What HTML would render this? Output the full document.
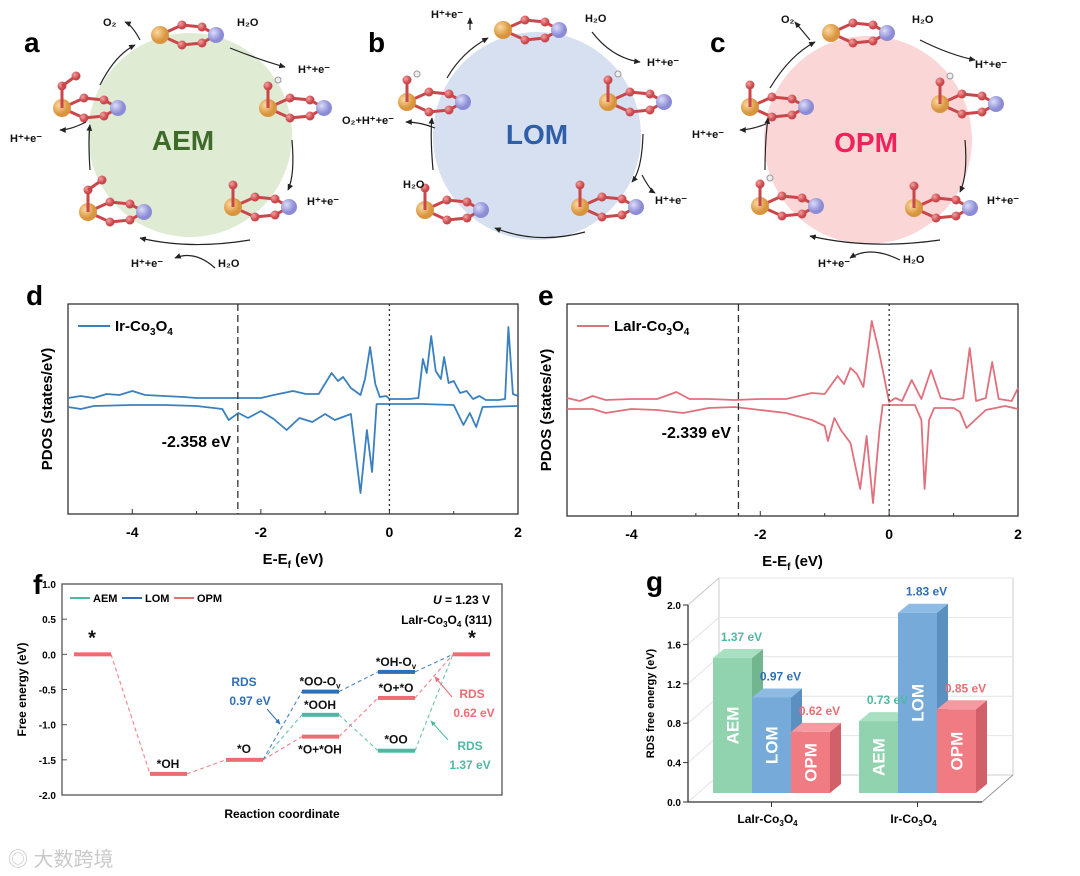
<!DOCTYPE html>
<html><head><meta charset="utf-8">
<style>
html,body{margin:0;padding:0;background:#fff;}
svg{display:block;font-family:"Liberation Sans","Noto Sans CJK SC",sans-serif;}
text{font-weight:bold;}
</style></head>
<body>
<svg id="fig" width="1080" height="876" viewBox="0 0 1080 876" xmlns="http://www.w3.org/2000/svg">
<defs>
<marker id="ah" viewBox="0 0 10 10" refX="8" refY="5" markerWidth="6" markerHeight="6" orient="auto"><path d="M0,1 L9,5 L0,9 z" fill="#222"/></marker>
<marker id="ahb" viewBox="0 0 10 10" refX="8" refY="5" markerWidth="6" markerHeight="6" orient="auto"><path d="M0,1 L9,5 L0,9 z" fill="#2f6fb5"/></marker>
<marker id="ahr" viewBox="0 0 10 10" refX="8" refY="5" markerWidth="6" markerHeight="6" orient="auto"><path d="M0,1 L9,5 L0,9 z" fill="#ef6b73"/></marker>
<marker id="aht" viewBox="0 0 10 10" refX="8" refY="5" markerWidth="6" markerHeight="6" orient="auto"><path d="M0,1 L9,5 L0,9 z" fill="#4fb8a4"/></marker>
<radialGradient id="go" cx="35%" cy="35%"><stop offset="0" stop-color="#fbd9a0"/><stop offset="1" stop-color="#d9953e"/></radialGradient>
<radialGradient id="gp" cx="35%" cy="35%"><stop offset="0" stop-color="#dcdcf8"/><stop offset="1" stop-color="#8c8cd6"/></radialGradient>
<radialGradient id="gr" cx="35%" cy="35%"><stop offset="0" stop-color="#f4a0a0"/><stop offset="1" stop-color="#c9464a"/></radialGradient>
</defs>

<g id="schemes">
  <text x="24" y="52" font-size="28">a</text>
  <circle cx="190" cy="135" r="102" fill="#dfebd3"/>
  <text x="183" y="150" font-size="28" fill="#3f6b2a" text-anchor="middle">AEM</text>
  <text x="368" y="52" font-size="28">b</text>
  <circle cx="537" cy="136" r="104" fill="#d6e0f1"/>
  <text x="537" y="144" font-size="28" fill="#2f5fa8" text-anchor="middle">LOM</text>
  <text x="710" y="52" font-size="28">c</text>
  <circle cx="868" cy="140" r="104" fill="#fad6d6"/>
  <text x="866" y="152" font-size="28" fill="#f0215c" text-anchor="middle">OPM</text>
  <g id="mols"></g>
  <g font-size="11" fill="#111">
    <text x="103" y="26">O₂</text>
    <text x="237" y="26">H₂O</text>
    <text x="298" y="73">H⁺+e⁻</text>
    <text x="10" y="142">H⁺+e⁻</text>
    <text x="307" y="205">H⁺+e⁻</text>
    <text x="131" y="267">H⁺+e⁻</text>
    <text x="218" y="267">H₂O</text>
    <text x="431" y="18">H⁺+e⁻</text>
    <text x="585" y="22">H₂O</text>
    <text x="647" y="66">H⁺+e⁻</text>
    <text x="342" y="124">O₂+H⁺+e⁻</text>
    <text x="403" y="188">H₂O</text>
    <text x="655" y="204">H⁺+e⁻</text>
    <text x="781" y="23">O₂</text>
    <text x="912" y="23">H₂O</text>
    <text x="975" y="68">H⁺+e⁻</text>
    <text x="692" y="138">H⁺+e⁻</text>
    <text x="987" y="204">H⁺+e⁻</text>
    <text x="818" y="267">H⁺+e⁻</text>
    <text x="903" y="263">H₂O</text>
  </g>
  <g fill="none" stroke="#222" stroke-width="1.2" marker-end="url(#ah)">
    <path d="M100,85 Q115,55 135,45"/>
    <path d="M230,48 Q260,60 285,67"/>
    <path d="M292,140 Q295,175 288,190"/>
    <path d="M250,240 Q190,250 140,238"/>
    <path d="M90,170 Q88,140 90,125"/>
    <path d="M86,122 Q70,130 60,130"/>
    <path d="M140,40 Q132,25 125,22"/>
    <path d="M215,268 Q195,250 175,258"/>
    <path d="M447,78 Q462,52 488,38"/>
    <path d="M470,30 Q470,22 470,18"/>
    <path d="M592,32 Q612,58 640,62"/>
    <path d="M643,134 Q642,170 632,182"/>
    <path d="M585,232 Q537,245 495,228"/>
    <path d="M642,175 Q650,190 655,193"/>
    <path d="M433,170 Q430,135 432,118"/>
    <path d="M435,128 Q420,122 406,122"/>
    <path d="M770,88 Q790,55 815,42"/>
    <path d="M810,40 Q800,28 795,22"/>
    <path d="M920,40 Q950,55 975,60"/>
    <path d="M965,140 Q968,175 960,192"/>
    <path d="M940,240 Q870,250 810,236"/>
    <path d="M900,260 Q870,245 850,258"/>
    <path d="M765,170 Q765,140 768,118"/>
    <path d="M766,124 Q750,130 740,130"/>
  </g>
</g>

<g id="pdosD"></g>
<g id="pdosE"></g>
<g id="panelF"></g>
<g id="panelG"></g>

<text x="8" y="866" font-size="20" fill="#c9c9c9" style="font-weight:normal">◎ 大数跨境</text>
</svg>
<script>
// ---------- PDOS data ----------
const dUpE  = [-5,-4.8,-4.6,-4.4,-4.2,-4,-3.8,-3.5,-3.2,-3,-2.5,-2.2,-2,-1.8,-1.5,-1.3,-1.1,-0.9,-0.8,-0.72,-0.6,-0.45,-0.38,-0.3,-0.22,-0.15,-0.05,0,0.3,0.45,0.52,0.58,0.65,0.72,0.8,0.85,0.92,1.0,1.1,1.2,1.3,1.4,1.5,1.7,1.8,1.85,1.92,2];
const dUpV  = [1.1,1.3,1.1,1.5,1.4,1.8,1.4,1.3,1.2,1.1,1.1,1.1,1.1,1.4,1.8,1.5,1.5,3.6,2.8,3.2,2.1,1.4,3.0,6.2,2.5,1.2,1.3,1.0,1.0,1.1,5.0,3.6,7.3,3.8,3.0,5.2,2.6,2.8,1.6,1.8,1.0,1.3,0.9,0.9,1.0,8.2,1.5,1.3];
const dDnE  = [-5,-4.8,-4.6,-4,-3.5,-3,-2.6,-2.5,-2.35,-2.2,-2,-1.8,-1.6,-1.4,-1.2,-1,-0.85,-0.6,-0.45,-0.35,-0.27,-0.2,0,0.5,1.0,1.15,1.25,1.35,1.45,2];
const dDnV  = [0.2,0,0.3,0.4,0.4,0.3,0,-1.1,-0.4,-0.9,-0.2,-1.0,-2.1,-0.9,-1.3,-0.5,-1.1,-0.5,-8.4,-2.1,-6.3,0.5,0.5,0.5,0.4,-1.6,-0.4,-1.8,0.2,0.3];
const eUpE  = [-5,-4.8,-4.6,-4.4,-4,-3.6,-3.3,-3.1,-2.8,-2.4,-2,-1.6,-1.2,-1.0,-0.8,-0.7,-0.6,-0.5,-0.4,-0.27,-0.17,-0.1,0,0.1,0.2,0.35,0.5,0.65,0.8,1.0,1.15,1.25,1.35,1.5,1.6,1.7,1.9,2];
const eUpV  = [1.2,0.9,1.4,1.0,1.1,1.1,1.8,1.1,1.1,1.0,1.1,1.1,1.7,1.6,3.4,2.6,4.2,3.6,2.3,8.9,6.2,4.0,0.8,1.2,0.9,3.0,1.1,4.0,1.2,1.0,1.2,6.2,0.9,1.2,4.8,1.1,0.9,2.2];
const eDnE  = [-5,-4.6,-4.4,-4,-3.6,-3.2,-2.8,-2.4,-2,-1.6,-1.2,-1.0,-0.95,-0.85,-0.75,-0.6,-0.45,-0.35,-0.25,-0.15,-0.1,0.4,0.5,0.55,0.62,0.7,1.0,1.1,1.2,1.3,1.5,1.8,2];
const eDnV  = [0.1,0.1,-0.3,0.1,0.0,-0.3,0.2,0.3,0.0,-0.3,-1.0,-1.6,-3.1,-0.8,-2.0,-3.3,-7.9,-2.6,-9.3,-2.0,0.5,0.5,-1.0,-7.9,-1.0,0.2,0.2,-0.2,-1.8,-1.2,0.0,0.4,0.1];
const eTicks = [-4,-2,0,2];

// ---------- Free energy data (panel f) ----------
const stepSlots = [0,1,2,3,4,5];
const aemE = [0,-1.70,-1.50,-0.86,-1.37,0];
const lomE = [0,-1.70,-1.50,-0.53,-0.25,0];
const opmE = [0,-1.70,-1.50,-1.17,-0.62,0];
const fTicks = [1.0,0.5,0.0,-0.5,-1.0,-1.5,-2.0];

// ---------- RDS data (panel g) ----------
const gGroups = ["LaIr-Co₃O₄","Ir-Co₃O₄"];
const gAEM = [1.37,0.73];
const gLOM = [0.97,1.83];
const gOPM = [0.62,0.85];
const gTicks = [0.0,0.4,0.8,1.2,1.6,2.0];

const NS="http://www.w3.org/2000/svg";
function mk(tag,attrs,parent,txt){const e=document.createElementNS(NS,tag);for(const k in attrs)e.setAttribute(k,attrs[k]);if(txt!==undefined)e.textContent=txt;parent.appendChild(e);return e;}

const mols=document.getElementById('mols');
function molecule(x,y,extra){
  const g=mk('g',{},mols);
  
  
  mk('path',{d:`M${x},${y} L${x+22},${y-10} L${x+42},${y-8} L${x+56},${y} L${x+42},${y+8} L${x+22},${y+10} Z`,fill:'none',stroke:'#c9464a','stroke-width':3},g);
  mk('circle',{cx:x,cy:y,r:9,fill:'url(#go)'},g);
  mk('circle',{cx:x+56,cy:y,r:8,fill:'url(#gp)'},g);
  [[22,-10],[42,-8],[22,10],[42,8]].forEach(p=>mk('circle',{cx:x+p[0],cy:y+p[1],r:4.5,fill:'url(#gr)'},g));
  if(extra>=1){mk('line',{x1:x,y1:y,x2:x,y2:y-22,stroke:'#c9464a','stroke-width':3},g);mk('circle',{cx:x,cy:y-22,r:4.5,fill:'url(#gr)'},g);}
  if(extra==2){mk('circle',{cx:x+10,cy:y-28,r:3,fill:'#eee',stroke:'#999'},g);}
  if(extra==3){mk('line',{x1:x,y1:y-22,x2:x+14,y2:y-32,stroke:'#c9464a','stroke-width':3},g);mk('circle',{cx:x+14,cy:y-32,r:4.5,fill:'url(#gr)'},g);}
}
[[160,35,0],[268,108,2],[233,207,1],[88,212,3],[62,108,3],
 [503,30,0],[608,102,2],[580,207,1],[425,210,1],[407,102,2],
 [831,33,0],[940,104,2],[914,208,1],[760,206,2],[750,107,1]].forEach(m=>molecule(m[0],m[1],m[2]));

// ---------- PDOS ----------
function pdos(gid,x0,x1,y0,y1,upE,upV,dnE,dnV,color,name,lab,lineE,labText,labX,labY){
  const g=document.getElementById(gid);
  const X=e=>x0+(e+5)/7*(x1-x0);
  const Y=v=>(y0+y1)/2 - v*10;
  mk('rect',{x:x0,y:y0,width:x1-x0,height:y1-y0,fill:'none',stroke:'#333','stroke-width':1.3},g);
  const up=mk('path',{d:upE.map((e,i)=>(i?'L':'M')+X(e).toFixed(1)+','+Y(upV[i]).toFixed(1)).join(' '),fill:'none',stroke:color,'stroke-width':1.8,'stroke-linejoin':'round'},g);
  
  
  const dn=mk('path',{d:dnE.map((e,i)=>(i?'L':'M')+X(e).toFixed(1)+','+Y(dnV[i]).toFixed(1)).join(' '),fill:'none',stroke:color,'stroke-width':1.8,'stroke-linejoin':'round'},g);
  
  
  mk('line',{x1:X(lineE),y1:y0,x2:X(lineE),y2:y1,stroke:'#333','stroke-dasharray':'7,4','stroke-width':1.3},g);
  mk('line',{x1:X(0),y1:y0,x2:X(0),y2:y1,stroke:'#333','stroke-dasharray':'2,3','stroke-width':1.3},g);
  eTicks.forEach(t=>{mk('line',{x1:X(t),y1:y1,x2:X(t),y2:y1-5,stroke:'#333'},g);
    const tl=mk('text',{x:X(t),y:y1+23,'font-size':14,'text-anchor':'middle'},g,t);
    });
  [-3,-1,1].forEach(t=>mk('line',{x1:X(t),y1:y1,x2:X(t),y2:y1-3,stroke:'#333'},g));
  const xt=mk('text',{x:(x0+x1)/2,y:y1+50,'font-size':15,'text-anchor':'middle'},g);
  
  xt.innerHTML='E-E<tspan font-size="10" dy="4">f</tspan><tspan dy="-4"> (eV)</tspan>';
  const yt=mk('text',{x:0,y:0,'font-size':15,'text-anchor':'middle',transform:`translate(${x0-16},${(y0+y1)/2}) rotate(-90)`},g,'PDOS (states/eV)');
  
  mk('line',{x1:x0+10,y1:y0+22,x2:x0+42,y2:y0+22,stroke:color,'stroke-width':2},g);
  const lt=mk('text',{x:x0+47,y:y0+27,'font-size':15},g);
  
  lt.innerHTML=lab+'-Co<tspan font-size="10" dy="4">3</tspan><tspan dy="-4">O</tspan><tspan font-size="10" dy="4">4</tspan>';
  const an=mk('text',{x:labX,y:labY,'font-size':16,'text-anchor':'end'},g,labText);
  
}
mk('text',{x:26,y:305,'font-size':28},document.getElementById('pdosD'),'d');
mk('text',{x:538,y:305,'font-size':28},document.getElementById('pdosE'),'e');
pdos('pdosD',68,518,304,514,dUpE,dUpV,dDnE,dDnV,'#3a80c0','ir-co3o4','Ir',-2.358,'-2.358 eV',231,447);
pdos('pdosE',567,1018,304,516,eUpE,eUpV,eDnE,eDnV,'#e0707c','lair-co3o4','LaIr',-2.339,'-2.339 eV',731,438);

// ---------- Panel f ----------
(function(){
  const g=document.getElementById('panelF');
  const x0=62,x1=502,yTop=584,yBot=795;
  const Y=v=>yTop+(1.0-v)/3*(yBot-yTop);
  const slotL=[74,150,226,302,378,453], W=37;
  const SX=i=>slotL[stepSlots[i]];
  mk('text',{x:33,y:594,'font-size':28},g,'f');
  mk('rect',{x:x0,y:yTop,width:x1-x0,height:yBot-yTop,fill:'none',stroke:'#555','stroke-width':1.3},g);
  fTicks.forEach(t=>{mk('line',{x1:x0,y1:Y(t),x2:x0+5,y2:Y(t),stroke:'#555'},g);
    const tl=mk('text',{x:x0-6,y:Y(t)+4,'font-size':10,'text-anchor':'end'},g,t.toFixed(1));
    });
  const yt=mk('text',{x:0,y:0,'font-size':12,'text-anchor':'middle',transform:`translate(${x0-36},${(yTop+yBot)/2}) rotate(-90)`},g,'Free energy (eV)');
  
  const xt=mk('text',{x:(x0+x1)/2,y:818,'font-size':12,'text-anchor':'middle'},g,'Reaction coordinate');
  
  const series=[[aemE,'#4fb8a4','aem'],[lomE,'#2f6fb5','lom'],[opmE,'#ef6b73','opm']];
  series.forEach(s=>{
    const arr=s[0];
    for(let i=0;i<arr.length-1;i++){
      if(i<2 && s[2]!=='opm') continue;
      const l=mk('line',{x1:SX(i)+W,y1:Y(arr[i]),x2:SX(i+1),y2:Y(arr[i+1]),stroke:s[1],'stroke-width':1.1,'stroke-dasharray':'4,3',opacity:0.85},g);
      
    }
  });
  series.forEach(s=>{
    const arr=s[0];
    arr.forEach((v,i)=>{
      if((i<3||i==5) && s[2]!=='opm') return;
      const r=mk('rect',{x:SX(i),y:Y(v)-2,width:W,height:4,fill:s[1]},g);
      
    });
  });
  const T=(x,y,t,c,sz,nm)=>{const e=mk('text',{x:x,y:y,'font-size':sz||12,fill:c||'#111','text-anchor':'middle'},g);e.innerHTML=t;return e;};
  T(92,Y(0)-10,'*','#111',20,'label-star-start');
  T(472,Y(0)-10,'*','#111',20,'label-star-end');
  T(168,Y(aemE[1])-6,'*OH','#111',12,'label-oh');
  T(244,Y(aemE[2])-7,'*O','#111',12,'label-o');
  T(320,Y(lomE[3])-6,'*OO-O<tspan font-size="8" dy="3">v</tspan>','#111',12,'label-oo-ov');
  T(320,Y(aemE[3])-6,'*OOH','#111',12,'label-ooh');
  T(320,Y(opmE[3])+17,'*O+*OH','#111',12,'label-o-oh');
  T(396,Y(lomE[4])-6,'*OH-O<tspan font-size="8" dy="3">v</tspan>','#111',12,'label-oh-ov');
  T(396,Y(opmE[4])-6,'*O+*O','#111',12,'label-o-o');
  T(396,Y(aemE[4])-7,'*OO','#111',12,'label-oo');
  T(244,686,'RDS','#2f6fb5',12,'rds-lom');T(250,705,'0.97 eV','#2f6fb5',12,'rds-lom-value');
  T(472,698,'RDS','#ef6b73',12,'rds-opm');T(474,717,'0.62 eV','#ef6b73',12,'rds-opm-value');
  T(470,750,'RDS','#4fb8a4',12,'rds-aem');T(470,769,'1.37 eV','#4fb8a4',12,'rds-aem-value');
  mk('line',{x1:267,y1:709,x2:280,y2:724,stroke:'#2f6fb5','marker-end':'url(#ahb)'},g);
  mk('line',{x1:452,y1:697,x2:435,y2:677,stroke:'#ef6b73','marker-end':'url(#ahr)'},g);
  mk('line',{x1:448,y1:740,x2:431,y2:721,stroke:'#4fb8a4','marker-end':'url(#aht)'},g);
  const leg=[['AEM','#4fb8a4',70],['LOM','#2f6fb5',122],['OPM','#ef6b73',174]];
  leg.forEach(l=>{mk('line',{x1:l[2],y1:598,x2:l[2]+20,y2:598,stroke:l[1],'stroke-width':2},g);
    const t=mk('text',{x:l[2]+23,y:602,'font-size':11},g,l[0]);});
  const u=mk('text',{x:490,y:604,'font-size':12,'text-anchor':'end'},g);u.innerHTML='<tspan font-style="italic">U</tspan> = 1.23 V';
  
  const s=mk('text',{x:492,y:624,'font-size':12,'text-anchor':'end'},g);s.innerHTML='LaIr-Co<tspan font-size="8" dy="3">3</tspan><tspan dy="-3">O</tspan><tspan font-size="8" dy="3">4</tspan><tspan dy="-3"> (311)</tspan>';
  
})();

// ---------- Panel g ----------
(function(){
  const g=document.getElementById('panelG');
  const ax=688, ay0=802, S=98.5, dX=31, dY=-27, xr=982;
  mk('text',{x:646,y:591,'font-size':28},g,'g');
  const Yf=v=>ay0-v*S;
  mk('rect',{x:ax+dX,y:578,width:xr-ax,height:ay0+dY-578,fill:'none',stroke:'#ccc'},g);
  gTicks.forEach(t=>{ if(t>0) mk('line',{x1:ax+dX,y1:Yf(t)+dY,x2:xr+dX,y2:Yf(t)+dY,stroke:'#e4e4e4'},g);
    mk('line',{x1:ax,y1:Yf(t),x2:ax+dX,y2:Yf(t)+dY,stroke:'#e4e4e4'},g);});
  mk('line',{x1:ax,y1:605,x2:ax+dX,y2:578,stroke:'#ccc'},g);
  mk('line',{x1:xr,y1:ay0,x2:xr+dX,y2:ay0+dY,stroke:'#999'},g);
  mk('line',{x1:ax,y1:ay0,x2:xr,y2:ay0,stroke:'#333','stroke-width':1.3},g);
  mk('line',{x1:ax,y1:ay0,x2:ax,y2:Yf(2.0),stroke:'#333','stroke-width':1.3},g);
  gTicks.forEach(t=>{mk('line',{x1:ax-5,y1:Yf(t),x2:ax,y2:Yf(t),stroke:'#333'},g);
    const tl=mk('text',{x:ax-7,y:Yf(t)+4,'font-size':10,'text-anchor':'end'},g,t.toFixed(1));
    });
  const yt=mk('text',{x:0,y:0,'font-size':11,'text-anchor':'middle',transform:`translate(${ax-34},${Yf(1.0)}) rotate(-90)`},g,'RDS free energy (eV)');
  
  const base=793, bw=39, bdx=11, bdy=-9;
  const groupX=[713,859];
  const cols=[['AEM',gAEM,'#91d3af','#a9e0c2','#72b690','#4fb8a4'],['LOM',gLOM,'#76aad9','#8dbbe4','#5b8fc0','#2f6fb5'],['OPM',gOPM,'#f07b83','#f49aa0','#d2606a','#ef6b73']];
  const labelLayer=[];
  gGroups.forEach((gn,gi)=>{
    cols.forEach((c,ci)=>{
      const v=c[1][gi], x=groupX[gi]+ci*bw, h=v*S, top=base-h;
      const side=mk('path',{d:`M${x+bw},${base} L${x+bw+bdx},${base+bdy} L${x+bw+bdx},${top+bdy} L${x+bw},${top} Z`,fill:c[4]},g);
      
      const tp=mk('path',{d:`M${x},${top} L${x+bdx},${top+bdy} L${x+bw+bdx},${top+bdy} L${x+bw},${top} Z`,fill:c[3]},g);
      
      const r=mk('rect',{x:x,y:top,width:bw,height:h,fill:c[2]},g);
      
      const cy=top+h/2;
      const bl=mk('text',{x:0,y:0,'font-size':17,fill:'#fff','text-anchor':'middle',transform:`translate(${x+bw/2+6},${Math.max(cy,top+30)}) rotate(-90)`},g,c[0]);
      
      labelLayer.push([x+bw/2+bdx-2, top+bdy-8, c[5], v.toFixed(2)+' eV']);
    });
    const cx=groupX[gi]+1.5*bw;
    mk('line',{x1:cx,y1:ay0,x2:cx,y2:ay0+5,stroke:'#333'},g);
    const xl=mk('text',{x:cx-4,y:ay0+21,'font-size':12,'text-anchor':'middle'},g);
    xl.innerHTML=gn.replace('₃O₄','')+'<tspan font-size="8" dy="3">3</tspan><tspan dy="-3">O</tspan><tspan font-size="8" dy="3">4</tspan>';
    
  });
  labelLayer.forEach(L=>{
    const vl=mk('text',{x:L[0],y:L[1],'font-size':12,fill:L[2],'text-anchor':'middle'},g,L[3]);
    
    
  });
})();
</script>
</body></html>
